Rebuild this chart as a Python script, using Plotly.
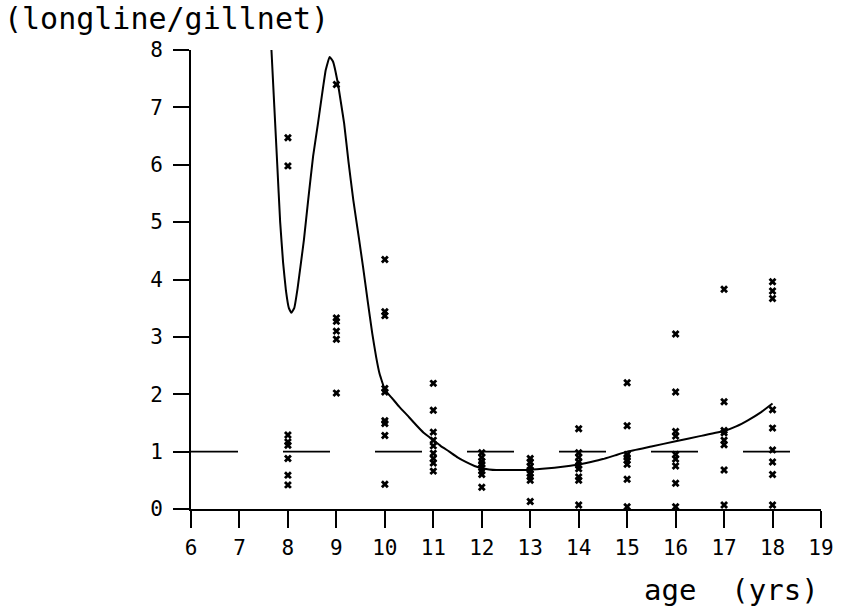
import plotly.graph_objects as go

# ---- data ----
ages = [8, 9, 10, 11, 12, 13, 14, 15, 16, 17, 18]
ratios = {
    8: [6.47, 5.98, 1.29, 1.17, 1.11, 0.88, 0.59, 0.42],
    9: [7.40, 3.33, 3.27, 3.10, 2.96, 2.02],
    10: [4.35, 3.44, 3.37, 2.10, 2.04, 1.54, 1.49, 1.28, 0.43],
    11: [2.19, 1.72, 1.34, 1.20, 1.10, 0.97, 0.88, 0.80, 0.66],
    12: [0.98, 0.90, 0.83, 0.78, 0.72, 0.66, 0.60, 0.38],
    13: [0.88, 0.82, 0.74, 0.68, 0.62, 0.56, 0.50, 0.13],
    14: [1.40, 0.98, 0.90, 0.82, 0.76, 0.70, 0.56, 0.50, 0.07],
    15: [2.20, 1.45, 0.95, 0.90, 0.85, 0.78, 0.52, 0.04],
    16: [3.05, 2.04, 1.35, 1.27, 0.95, 0.87, 0.75, 0.45, 0.04],
    17: [3.83, 1.87, 1.37, 1.33, 1.20, 1.12, 0.68, 0.07],
    18: [3.96, 3.80, 3.67, 1.73, 1.41, 1.03, 0.82, 0.60, 0.07],
}

# smooth fitted curve
curve_x = [7.66, 7.72, 7.78, 7.84, 7.90, 7.96, 8.02, 8.07, 8.13, 8.20, 8.27,
           8.33, 8.42, 8.52, 8.62, 8.70, 8.78, 8.86, 8.93, 9.03, 9.10, 9.16,
           9.25, 9.35, 9.47, 9.55, 9.65, 9.74, 9.82, 9.89, 10.0, 10.15, 10.3,
           10.5, 10.65, 10.8, 11.0, 11.15, 11.33, 11.5, 11.67, 11.85, 12.0,
           12.15, 12.3, 12.6, 12.95, 13.25, 13.5, 13.75, 13.97, 14.25, 14.5,
           14.75, 15.0, 15.5, 16.0, 16.5, 17.0, 17.25, 17.5, 17.75, 18.0]
curve_y = [8.0, 7.0, 6.0, 5.0, 4.3, 3.8, 3.5, 3.42, 3.5, 3.85, 4.3,
           4.69, 5.4, 6.15, 6.72, 7.2, 7.65, 7.88, 7.8, 7.42, 7.05, 6.72,
           6.05, 5.38, 4.69, 4.22, 3.6, 3.06, 2.65, 2.36, 2.08, 1.93, 1.78,
           1.6, 1.46, 1.33, 1.2, 1.1, 1.0, 0.9, 0.82, 0.75, 0.71,
           0.69, 0.68, 0.68, 0.68, 0.7, 0.72, 0.745, 0.77, 0.82, 0.87,
           0.935, 1.0, 1.09, 1.18, 1.27, 1.36, 1.44, 1.55, 1.68, 1.84]

ref_level = 1.0
x_ticks = list(range(6, 20))
y_ticks = list(range(0, 9))

FONT = "DejaVu Sans Mono"

pts_x = [a for a in ages for _ in ratios[a]]
pts_y = [v for a in ages for v in ratios[a]]

fig = go.Figure()
fig.add_trace(go.Scatter(
    x=pts_x, y=pts_y, mode="markers",
    marker=dict(symbol="x", size=7, color="black", line=dict(width=0)),
    showlegend=False, cliponaxis=False))
fig.add_trace(go.Scatter(
    x=curve_x, y=curve_y, mode="lines",
    line=dict(color="black", width=2, shape="spline", smoothing=0.3),
    showlegend=False))

fig.add_shape(type="line", xref="x", yref="y", x0=6, x1=19,
              y0=ref_level, y1=ref_level,
              line=dict(color="black", width=1.6, dash="47px,45px"))

fig.add_annotation(text="(longline/gillnet)", xref="paper", yref="paper",
                   x=-0.3, y=1.0, xanchor="left", yanchor="bottom",
                   yshift=12, showarrow=False,
                   font=dict(family=FONT, size=30, color="black"))
fig.add_annotation(text="age\u00a0\u00a0(yrs)", xref="paper", yref="paper",
                   x=1.0, y=0, xanchor="right", yanchor="top",
                   yshift=-62, showarrow=False,
                   font=dict(family=FONT, size=29, color="black"))

axis_common = dict(showgrid=False, zeroline=False, showline=True,
                   linecolor="black", linewidth=2, ticks="outside",
                   tickcolor="black", tickwidth=2,
                   tickfont=dict(family=FONT, size=21, color="black"))

fig.update_xaxes(range=[6, 19], tickvals=x_ticks, ticklen=17,
                 ticklabelstandoff=2, **axis_common)
fig.update_yaxes(range=[0, 8], tickvals=y_ticks, ticklen=16,
                 ticklabelstandoff=6, **axis_common)

fig.update_layout(width=846, height=611,
                  margin=dict(l=191, r=15, t=50, b=102),
                  paper_bgcolor="white", plot_bgcolor="white")

fig.write_html("out.html")
